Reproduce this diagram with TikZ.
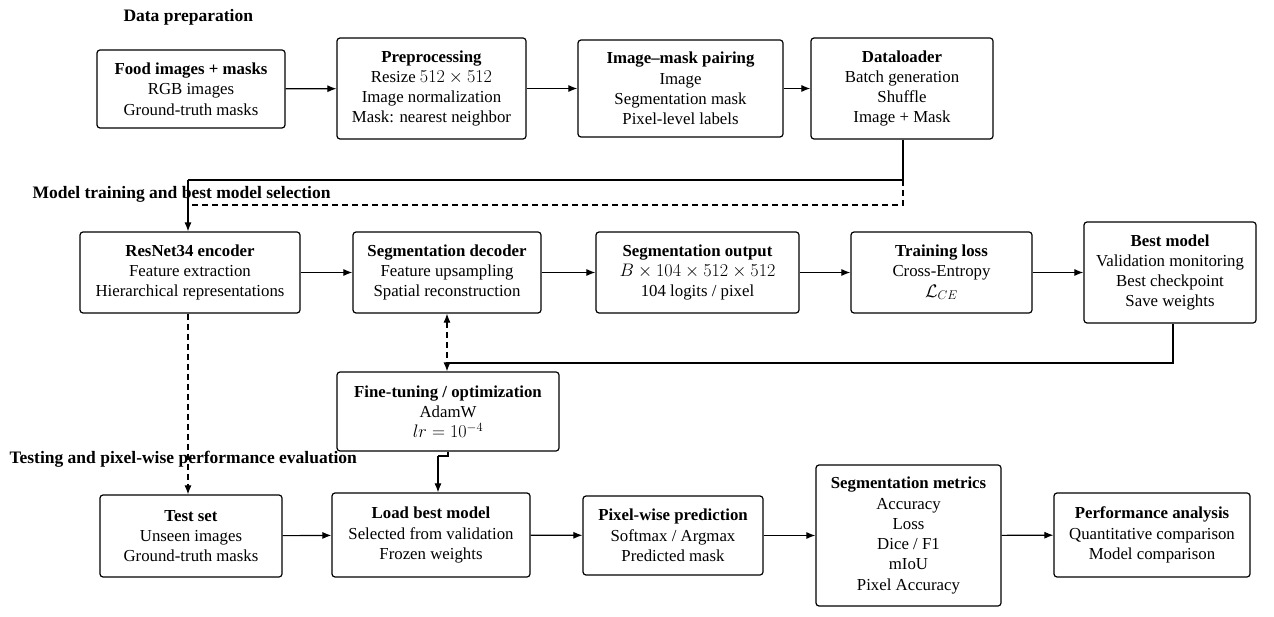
\documentclass[tikz,border=0pt]{standalone}
\usepackage{fontspec}
\setmainfont{Liberation Serif}
\usetikzlibrary{arrows.meta}
\begin{document}
\begin{tikzpicture}[x=1pt,y=-1pt,
  box/.style={draw,line width=1.2pt,rounded corners=3pt,align=center,inner sep=1pt,font=\fontsize{16.8}{20.3}\selectfont},
  lbl/.style={anchor=west,font=\fontsize{17.5}{18}\selectfont\bfseries},
  arr/.style={line width=1.1pt,-{Latex[length=9pt,width=7pt]}},
  ln/.style={line width=1.1pt},
  dsh/.style={line width=1.1pt,dash pattern=on 6pt off 4pt}]
\useasboundingbox (0,0) rectangle (1274,617);
\newcommand{\bx}[6]{\node[box,minimum width=#4-#2,minimum height=#5-#3] (#1) at ({(#2+#4)/2},{(#3+#5)/2}) {#6};}
\newcommand{\mth}[1]{\scalebox{1.05}{$#1$}}
\node[lbl] (l1) at (120,17) {Data preparation};
\node[lbl] (l2) at (29,194) {Model training and best model selection};
\node[lbl] (l3) at (6,459) {Testing and pixel-wise performance evaluation};
\bx{food}{97}{50}{285}{128}{\textbf{Food images + masks}\\RGB images\\Ground-truth masks}
\bx{pre}{337}{38}{526}{139}{\textbf{Preprocessing}\\Resize \mth{512\times512}\\Image normalization\\Mask: nearest neighbor}
\bx{pair}{578}{40}{783}{137}{\textbf{Image--mask pairing}\\Image\\Segmentation mask\\Pixel-level labels}
\bx{dl}{811}{38}{993}{139}{\textbf{Dataloader}\\Batch generation\\Shuffle\\Image + Mask}
\bx{enc}{80}{232}{300}{313}{\textbf{ResNet34 encoder}\\Feature extraction\\Hierarchical representations}
\bx{dec}{353}{232}{541}{313}{\textbf{Segmentation decoder}\\Feature upsampling\\Spatial reconstruction}
\bx{out}{596}{232}{799}{313}{\textbf{Segmentation output}\\\mth{B\times104\times512\times512}\\104 logits / pixel}
\bx{loss}{851}{232}{1032}{313}{\textbf{Training loss}\\Cross-Entropy\\\mth{\mathcal{L}_{CE}}}
\bx{best}{1084}{222}{1256}{323}{\textbf{Best model}\\Validation monitoring\\Best checkpoint\\Save weights}
\bx{ft}{337}{372}{559}{451}{\textbf{Fine-tuning / optimization}\\AdamW\\\mth{lr=10^{-4}}}
\bx{test}{100}{495}{282}{577}{\textbf{Test set}\\Unseen images\\Ground-truth masks}
\bx{load}{332}{493}{530}{577}{\textbf{Load best model}\\Selected from validation\\Frozen weights}
\bx{pix}{583}{496}{763}{575}{\textbf{Pixel-wise prediction}\\Softmax / Argmax\\Predicted mask}
\bx{met}{816}{465}{1001}{606}{\textbf{Segmentation metrics}\\Accuracy\\Loss\\Dice / F1\\mIoU\\Pixel Accuracy}
\bx{perf}{1054}{493}{1250}{577}{\textbf{Performance analysis}\\Quantitative comparison\\Model comparison}
\coordinate (c1) at (903,180);
\coordinate (c2) at (188,180);
\coordinate (c3) at (1173,363);
\coordinate (c4) at (447,363);
\coordinate (c5) at (448,456);
\coordinate (c6) at (438,456);
\draw[arr] (food) -- (pre);
\draw[arr] (pre) -- (pair);
\draw[arr] (pair) -- (dl);
\draw[arr] (enc) -- (dec);
\draw[arr] (dec) -- (out);
\draw[arr] (out) -- (loss);
\draw[arr] (loss) -- (best);
\draw[arr] (test) -- (load);
\draw[arr] (load) -- (pix);
\draw[arr] (pix) -- (met);
\draw[arr] (met) -- (perf);
\draw[ln] (dl.south -| c1) -- (c1) -- (c2);
\draw[arr] (c2) -- (c2 |- enc.north);
\draw[dsh] (c1) -- (903,205) -- (188,205);
\draw[dsh,-{Latex[length=9pt,width=7pt]}] (enc.south -| c2) -- (test.north -| c2);
\draw[ln] (best.south -| c3) -- (c3) -- (c4);
\draw[dsh,{Latex[length=9pt,width=7pt]}-{Latex[length=9pt,width=7pt]}] (dec.south -| c4) -- (ft.north -| c4);
\draw[ln] (ft.south -| c5) -- (c5) -- (c6);
\draw[arr] (c6) -- (load.north -| c6);
\end{tikzpicture}
\end{document}
